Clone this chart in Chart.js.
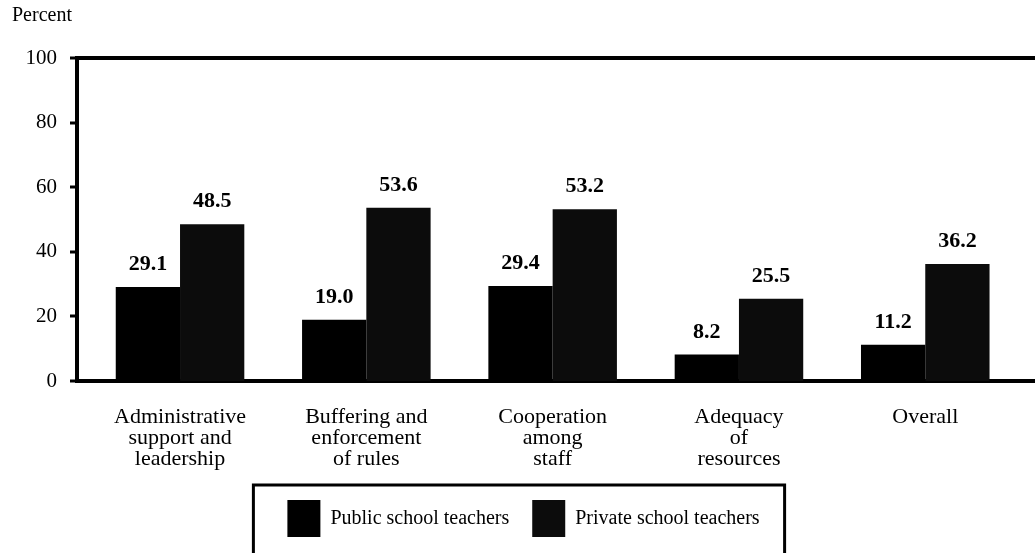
<!DOCTYPE html>
<html>
<head>
<meta charset="utf-8">
<script src="https://cdn.jsdelivr.net/npm/chart.js@4.4.1/dist/chart.umd.min.js"></script>
<style>
  html, body { margin: 0; padding: 0; background: #fff; }
  #wrap { width: 1035px; height: 553px; }
</style>
</head>
<body>
<div id="wrap"><canvas id="chart"></canvas></div>
<script>
// Data
const categories = [
    ['Administrative', 'support and', 'leadership'],
    ['Buffering and', 'enforcement', 'of rules'],
    ['Cooperation', 'among', 'staff'],
    ['Adequacy', 'of', 'resources'],
    ['Overall']
];
const publicTeachers = [29.1, 19.0, 29.4, 8.2, 11.2];
const privateTeachers = [48.5, 53.6, 53.2, 25.5, 36.2];
const seriesNames = ['Public school teachers', 'Private school teachers'];
const yTicks = [0, 20, 40, 60, 80, 100];

const serif = '"Liberation Serif", "Times New Roman", serif';
Chart.defaults.font.family = serif;
Chart.defaults.color = '#000';

// Value labels above each bar
const valueLabels = {
    id: 'valueLabels',
    afterDatasetsDraw(chart) {
        const ctx = chart.ctx;
        ctx.save();
        ctx.font = 'bold 22px ' + serif;
        ctx.fillStyle = '#000';
        ctx.textAlign = 'center';
        ctx.textBaseline = 'alphabetic';
        chart.data.datasets.forEach((ds, di) => {
            chart.getDatasetMeta(di).data.forEach((bar, i) => {
                ctx.fillText(ds.data[i].y.toFixed(1), bar.x, bar.y - 17);
            });
        });
        ctx.restore();
    }
};

// Open frame around the legend (runs off the bottom edge)
const legendFrame = {
    id: 'legendFrame',
    afterDraw(chart) {
        const lg = chart.legend;
        const boxes = lg && lg.legendHitBoxes;
        if (!boxes || !boxes.length) return;
        const first = boxes[0];
        const last = boxes[boxes.length - 1];
        const left = first.left - 34;
        const right = last.left + last.width + 25;
        const top = lg.top + 8;
        const ctx = chart.ctx;
        ctx.save();
        ctx.strokeStyle = '#000';
        ctx.lineWidth = 3;
        ctx.beginPath();
        ctx.moveTo(left, chart.height + 5);
        ctx.lineTo(left, top);
        ctx.lineTo(right, top);
        ctx.lineTo(right, chart.height + 5);
        ctx.stroke();
        ctx.restore();
    }
};

new Chart(document.getElementById('chart'), {
    type: 'bar',
    data: {
        datasets: [
            {
                label: seriesNames[0],
                data: publicTeachers.map((v, i) => ({ x: i, y: v })),
                backgroundColor: '#000',
                borderWidth: 0,
                categoryPercentage: 0.69,
                barPercentage: 1
            },
            {
                label: seriesNames[1],
                data: privateTeachers.map((v, i) => ({ x: i, y: v })),
                backgroundColor: '#0c0c0c',
                borderWidth: 0,
                categoryPercentage: 0.69,
                barPercentage: 1
            }
        ]
    },
    options: {
        responsive: true,
        maintainAspectRatio: false,
        animation: false,
        layout: { padding: { left: 12, right: 0, top: 0, bottom: 6 } },
        plugins: {
            title: {
                display: true,
                text: 'Percent',
                align: 'start',
                color: '#000',
                font: { size: 20, weight: 'normal' },
                padding: { top: 4, bottom: 30 }
            },
            legend: {
                position: 'bottom',
                labels: {
                    boxWidth: 33,
                    boxHeight: 37,
                    padding: 23,
                    color: '#000',
                    font: { size: 20 }
                }
            },
            tooltip: { enabled: false }
        },
        scales: {
            x: {
                type: 'linear',
                offset: false,
                min: -0.553,
                max: 4.589,
                afterBuildTicks: (scale) => {
                    scale.ticks = categories.map((_, i) => ({ value: i }));
                },
                afterFit: (scale) => { scale.height = 96; },
                grid: { display: false },
                border: { display: true, color: '#000', width: 4 },
                ticks: {
                    autoSkip: false,
                    maxRotation: 0,
                    padding: 18,
                    color: '#000',
                    font: { family: serif, size: 22, lineHeight: 0.95 },
                    callback: (v) => categories[v]
                }
            },
            y: {
                min: 0,
                max: 100,
                afterBuildTicks: (scale) => {
                    scale.ticks = yTicks.map((v) => ({ value: v }));
                },
                afterFit: (scale) => { scale.width = 65; },
                grid: {
                    drawOnChartArea: true,
                    color: (c) => (c.tick && c.tick.value === 100 ? '#000' : 'rgba(0,0,0,0)'),
                    lineWidth: (c) => (c.tick && c.tick.value === 100 ? 4 : 0),
                    tickColor: '#000',
                    tickLength: 7,
                    tickWidth: 3
                },
                border: { display: true, color: '#000', width: 4 },
                ticks: {
                    padding: 13,
                    color: '#000',
                    font: { family: serif, size: 21 }
                }
            }
        }
    },
    plugins: [valueLabels, legendFrame]
});
</script>
</body>
</html>
